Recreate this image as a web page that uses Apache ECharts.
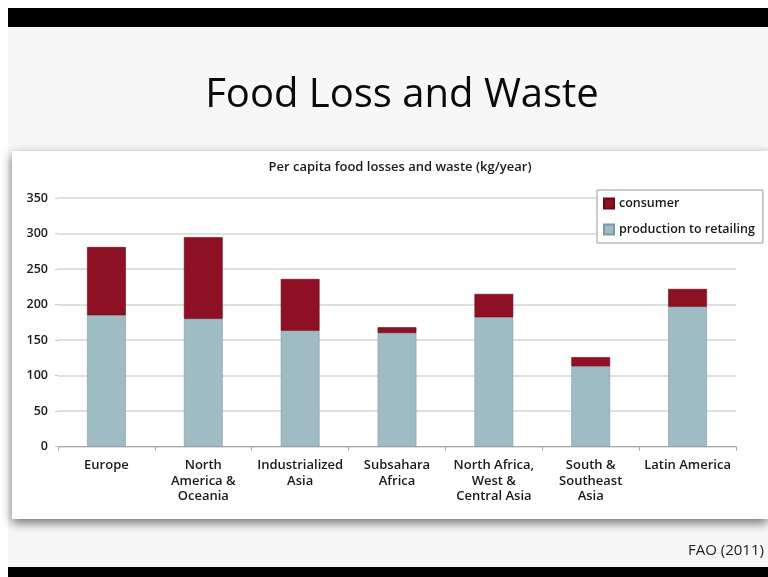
<!DOCTYPE html>
<html><head><meta charset="utf-8">
<script src="https://cdn.jsdelivr.net/npm/echarts@6/dist/echarts.min.js"></script>
<style>html,body{margin:0;padding:0;background:#fff}#c{width:768px;height:577px}</style>
</head><body><div id="c"></div>
<script>
const categories = ['Europe', 'North\nAmerica &\nOceania', 'Industrialized\nAsia', 'Subsahara\nAfrica', 'North Africa,\nWest &\nCentral Asia', 'South &\nSoutheast\nAsia', 'Latin America'];
const productionToRetailing = [185, 180, 163, 160, 182, 113, 197];
const consumer = [96, 115, 73, 8, 33, 13, 25];
const yTicks = [0, 50, 100, 150, 200, 250, 300, 350];

const chart = echarts.init(document.getElementById('c'), null, {renderer: 'canvas'});
const FONT = '"Open Sans", "Noto Sans", sans-serif';
chart.setOption({
  backgroundColor: '#ffffff',
  animation: false,
  graphic: [
    {type: 'rect', z: -10, shape: {x: 8, y: 27, width: 760, height: 540}, style: {fill: '#f7f7f7'}},
    {type: 'rect', z: -9, shape: {x: 12, y: 151, width: 756, height: 368},
      style: {fill: '#ffffff', shadowBlur: 10, shadowColor: 'rgba(0,0,0,0.55)', shadowOffsetY: 4}},
    {type: 'rect', z: 10, shape: {x: 8, y: 8, width: 760, height: 19}, style: {fill: '#000'}},
    {type: 'rect', z: 10, shape: {x: 8, y: 567, width: 760, height: 10}, style: {fill: '#000'}},
    {type: 'text', left: 688, top: 543, style: {text: 'FAO (2011)', font: '15px ' + FONT, fill: '#222'}}
  ],
  title: [
    {text: 'Food Loss and Waste', left: 397, textAlign: 'center', top: 71,
      textStyle: {fontFamily: FONT, fontWeight: 'normal', fontSize: 40, color: '#0a0a0a'}},
    {text: 'Per capita food losses and waste (kg/year)', left: 395, textAlign: 'center', top: 156,
      textStyle: {fontFamily: FONT, fontWeight: 600, fontSize: 13, color: '#1a1a1a'}}
  ],
  legend: {
    orient: 'vertical', left: 597, top: 190, width: 163,
    data: ['consumer', 'production to retailing'],
    backgroundColor: '#fff', borderColor: '#9a9a9a', borderWidth: 1, borderRadius: 0,
    padding: [7, 8, 7, 6], itemGap: 13, itemWidth: 10, itemHeight: 10,
    icon: 'rect',
    textStyle: {fontFamily: FONT, fontSize: 12.5, fontWeight: 600, color: '#1a1a1a'}
  },
  grid: {left: 58, right: 32, top: 198, bottom: 130.3, containLabel: false},
  xAxis: {
    type: 'category', data: categories,
    axisLine: {lineStyle: {color: '#a8a8a8'}},
    axisTick: {show: true, length: 4, alignWithLabel: false, lineStyle: {color: '#a8a8a8'}},
    axisLabel: {interval: 0, fontFamily: FONT, fontSize: 13, fontWeight: 600, color: '#1a1a1a', lineHeight: 15.5, margin: 11}
  },
  yAxis: {
    type: 'value', min: 0, max: 350, interval: 50,
    axisLine: {show: false},
    axisTick: {show: true, length: 3, lineStyle: {color: '#c8c8c8'}},
    splitLine: {lineStyle: {color: '#d4d4d4', width: 1.5}},
    axisLabel: {fontFamily: FONT, fontSize: 12.5, fontWeight: 600, color: '#1a1a1a', margin: 10,
      formatter: v => yTicks.includes(v) ? String(v) : ''}
  },
  series: [
    {name: 'production to retailing', type: 'bar', stack: 'a', data: productionToRetailing,
      barWidth: '40%', itemStyle: {color: '#9fbcc5', borderColor: '#7f99a2', borderWidth: 0.6}},
    {name: 'consumer', type: 'bar', stack: 'a', data: consumer,
      barWidth: '40%', itemStyle: {color: '#8e1024', borderColor: '#6a0a18', borderWidth: 0.6}}
  ]
});
</script></body></html>
